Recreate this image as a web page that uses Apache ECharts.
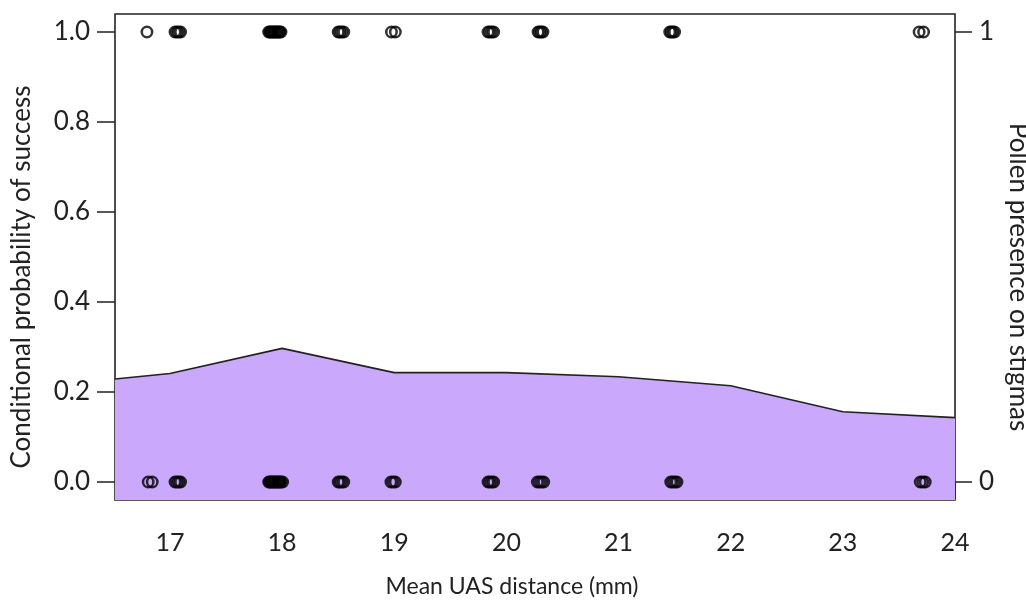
<!DOCTYPE html>
<html>
<head>
<meta charset="utf-8">
<script src="https://cdn.jsdelivr.net/npm/echarts@6/dist/echarts.min.js"></script>
<style>
html,body{margin:0;padding:0;background:#fff;}
#chart{width:1026px;height:602px;}
</style>
</head>
<body>
<div id="chart"></div>
<script>
// Fitted conditional probability curve
const curveX = [16.51, 17, 18, 19, 20, 21, 22, 23, 24];
const curveY = [0.229, 0.241, 0.297, 0.243, 0.243, 0.234, 0.214, 0.156, 0.143];
// Observed UAS distances with pollen present (1) and absent (0)
const presentX = [16.795, 17.045, 17.062, 17.078, 17.095, 17.88, 17.89, 17.9, 17.91, 17.92, 17.93, 17.94, 17.95, 17.96, 17.97, 17.98, 17.99,
  18.50, 18.515, 18.532, 18.55, 18.975, 19.01, 19.836, 19.852, 19.87, 19.887, 20.282, 20.297, 20.312, 20.326,
  21.456, 21.47, 21.485, 21.50, 23.68, 23.72];
const absentX = [16.806, 16.842, 17.045, 17.062, 17.078, 17.095, 17.88, 17.89, 17.9, 17.91, 17.92, 17.93, 17.94, 17.95, 17.96, 17.97, 17.98, 17.99, 18.005,
  18.50, 18.515, 18.532, 18.55, 18.97, 18.99, 19.01, 19.836, 19.852, 19.87, 19.887, 20.276, 20.295, 20.314, 20.333,
  21.465, 21.483, 21.502, 21.521, 23.69, 23.712, 23.735];
const xTicks = [17, 18, 19, 20, 21, 22, 23, 24];
const yTicksLeft = [0, 0.2, 0.4, 0.6, 0.8, 1.0];
const yTicksRight = [0, 1];

const FONT = 'Lato';
const ink = '#222';
const chart = echarts.init(document.getElementById('chart'));
chart.setOption({
  animation: false,
  backgroundColor: '#fff',
  grid: {left: 115, right: 71, top: 14, bottom: 102, show: true, borderColor: ink, borderWidth: 1.6,
    backgroundColor: 'transparent', containLabel: false, outerBoundsMode: 'none'},
  xAxis: {
    type: 'value', min: 16.51, max: 24.0,
    name: 'Mean UAS distance (mm)', nameLocation: 'middle', nameGap: 75,
    nameTextStyle: {fontFamily: FONT, fontSize: 23, color: ink, padding: [0, 46, 0, 0]},
    axisLine: {show: false},
    axisTick: {show: true, inside: false, length: 17, customValues: xTicks, lineStyle: {color: ink, width: 1.5}},
    axisLabel: {customValues: xTicks, margin: 30, fontFamily: FONT, fontSize: 25, color: ink},
    splitLine: {show: false}
  },
  yAxis: [{
    type: 'value', min: -0.04, max: 1.04, position: 'left',
    name: 'Conditional probability of success', nameLocation: 'middle', nameRotate: 90, nameGap: 80,
    nameTextStyle: {fontFamily: FONT, fontSize: 26, color: ink, padding: [0, 40, 0, 0]},
    axisLine: {show: false},
    axisTick: {show: true, length: 18, customValues: yTicksLeft, lineStyle: {color: ink, width: 1.5}},
    axisLabel: {customValues: yTicksLeft, margin: 25, fontFamily: FONT, fontSize: 26, color: ink,
      formatter: v => v.toFixed(1)},
    splitLine: {show: false}
  }, {
    type: 'value', min: -0.04, max: 1.04, position: 'right',
    name: 'Pollen presence on stigmas', nameLocation: 'middle', nameRotate: -90, nameGap: 43,
    nameTextStyle: {fontFamily: FONT, fontSize: 26, color: ink, padding: [0, 0, 0, 40]},
    axisLine: {show: false},
    axisTick: {show: true, length: 17, customValues: yTicksRight, lineStyle: {color: ink, width: 1.5}},
    axisLabel: {customValues: yTicksRight, margin: 24, fontFamily: FONT, fontSize: 26, color: ink,
      formatter: v => String(Math.round(v))},
    splitLine: {show: false}
  }],
  series: [{
    type: 'line', yAxisIndex: 0,
    data: curveX.map((x, i) => [x, curveY[i]]),
    showSymbol: false, symbol: 'none',
    lineStyle: {color: ink, width: 1.6},
    areaStyle: {color: '#caa9fd', opacity: 1, origin: 'start'},
    z: 1
  }, {
    type: 'scatter', yAxisIndex: 0,
    data: presentX.map(x => [x, 1]),
    symbol: 'circle', symbolSize: 10.4,
    itemStyle: {color: 'rgba(0,0,0,0)', borderColor: '#000', borderWidth: 2.5},
    z: 3
  }, {
    type: 'scatter', yAxisIndex: 0,
    data: absentX.map(x => [x, 0]),
    symbol: 'circle', symbolSize: 10.4,
    itemStyle: {color: 'rgba(0,0,0,0)', borderColor: '#000', borderWidth: 2.5},
    z: 3
  }]
});
</script>
</body>
</html>
